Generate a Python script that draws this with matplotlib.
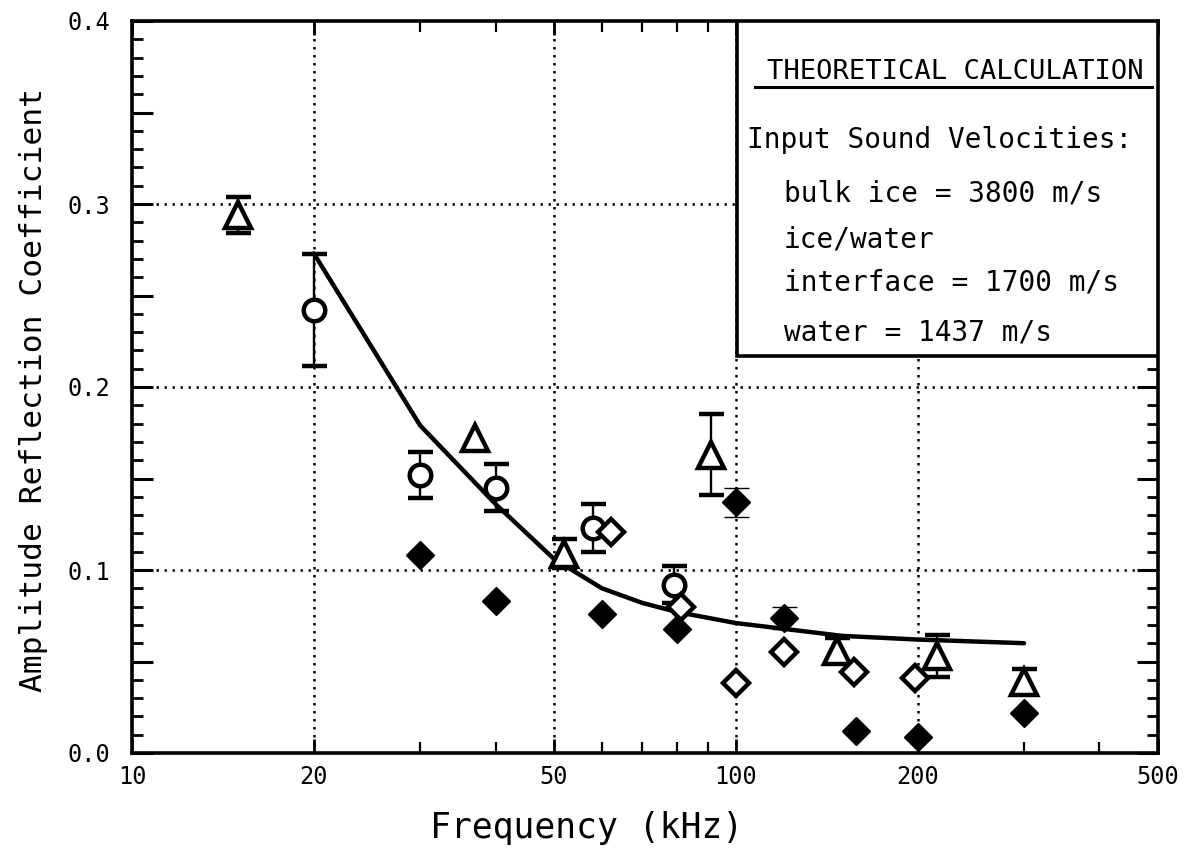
import numpy as np
import matplotlib
matplotlib.use("Agg")
import matplotlib.pyplot as plt
from matplotlib.ticker import FixedLocator, FuncFormatter, NullFormatter
from matplotlib.patches import Rectangle

plt.rcParams['font.family'] = ['DejaVu Sans Mono', 'DejaVu Sans']

# Measured reflection coefficients (open triangles, with error bars)
tri_f = [15, 37, 52, 91, 147, 215, 300]
tri_r = [0.294, 0.172, 0.109, 0.163, 0.056, 0.053, 0.039]
tri_err = [0.010, np.nan, 0.008, 0.022, 0.007, 0.0115, 0.007]

# Open circles, with error bars
circ_f = [20, 30, 40, 58, 79]
circ_r = [0.242, 0.152, 0.145, 0.123, 0.092]
circ_err = [0.0305, 0.0125, 0.013, 0.013, 0.010]

# Open diamonds
odia_f = [62, 81, 100, 120, 157, 198]
odia_r = [0.121, 0.080, 0.038, 0.055, 0.044, 0.041]

# Filled diamonds
fdia_f = [30, 40, 60, 80, 100, 120, 158, 200, 300]
fdia_r = [0.108, 0.083, 0.076, 0.068, 0.137, 0.074, 0.012, 0.009, 0.022]
fdia_err = [np.nan, np.nan, np.nan, np.nan, 0.008, 0.006, np.nan, np.nan, np.nan]

# Theoretical curve
theory_f = [20, 30, 40, 50, 60, 70, 80, 100, 150, 200, 300]
theory_r = [0.273, 0.179, 0.136, 0.106, 0.090, 0.082, 0.077, 0.071, 0.064, 0.062, 0.060]

grid_f = [20, 50, 100, 200]
grid_r = [0.1, 0.2, 0.3]
xtick_vals = [10, 20, 50, 100, 200, 500]
xtick_labels = ['10', '20', '50', '100', '200', '500']
xminor_vals = [30, 40, 60, 70, 80, 90, 300, 400]

box_lines = [
    ("Input Sound Velocities:", 0.599, 0.837),
    ("bulk ice = 3800 m/s", 0.635, 0.765),
    ("ice/water", 0.635, 0.701),
    ("interface = 1700 m/s", 0.635, 0.643),
    ("water = 1437 m/s", 0.635, 0.574),
]

fig = plt.figure(figsize=(11.83, 8.57), dpi=100)
ax = fig.add_axes([132 / 1183, (857 - 753) / 857, 1026 / 1183, 732 / 857])

ax.set_xscale('log')
ax.set_xlim(10, 500)
ax.set_ylim(0.0, 0.4)

# dotted grid
for f in grid_f:
    ax.axvline(f, color='black', ls=(0, (1, 2.2)), lw=1.8, zorder=1)
for r in grid_r:
    ax.axhline(r, color='black', ls=(0, (1, 2.2)), lw=1.8, zorder=1)

# theory curve
ax.plot(theory_f, theory_r, color='black', lw=3.2, zorder=2, solid_capstyle='round')

eb_kw = dict(ecolor='black', elinewidth=1.7, capsize=9, capthick=2.6, ls='none', zorder=3)

ax.errorbar(tri_f, tri_r, yerr=tri_err, fmt='^', ms=18.5, mfc='white', mec='black', mew=3.2, **eb_kw)
ax.errorbar(circ_f, circ_r, yerr=circ_err, fmt='o', ms=15.5, mfc='white', mec='black', mew=3.2, **eb_kw)
ax.plot(odia_f, odia_r, 'D', ms=13, mfc='white', mec='black', mew=3.2, ls='none', zorder=4)
ax.errorbar(fdia_f, fdia_r, yerr=fdia_err, fmt='D', ms=14.5, mfc='black', mec='black', mew=1, **eb_kw)

# ticks
ax.xaxis.set_major_locator(FixedLocator(xtick_vals))
ax.xaxis.set_major_formatter(FuncFormatter(lambda v, p: xtick_labels[xtick_vals.index(int(round(v)))] if int(round(v)) in xtick_vals else ''))
ax.xaxis.set_minor_locator(FixedLocator(xminor_vals))
ax.xaxis.set_minor_formatter(NullFormatter())

y_major = np.round(np.arange(0, 0.4001, 0.05), 2)
y_minor = np.round(np.arange(0, 0.4001, 0.01), 2)
ax.yaxis.set_major_locator(FixedLocator(y_major))
ax.yaxis.set_major_formatter(FuncFormatter(lambda v, p: f"{v:.1f}" if abs(v * 10 - round(v * 10)) < 1e-6 else ''))
ax.yaxis.set_minor_locator(FixedLocator(y_minor))

ax.tick_params(axis='both', which='both', direction='in', top=True, right=True, color='black')
ax.tick_params(axis='x', which='major', length=10, width=2, labelsize=17, pad=9)
ax.tick_params(axis='x', which='minor', length=8, width=1.6)
ax.tick_params(axis='y', which='major', length=15, width=2.2, labelsize=17, pad=16)
ax.tick_params(axis='y', which='minor', length=8, width=2)

for s in ax.spines.values():
    s.set_linewidth(2.6)

# annotation box
ax.add_patch(Rectangle((0.5897, 0.5423), 1 - 0.5897, 1 - 0.5423, transform=ax.transAxes,
                       facecolor='white', edgecolor='black', lw=2.6, zorder=5))
ax.text(0.802, 0.930, "THEORETICAL CALCULATION", transform=ax.transAxes, ha='center', va='center',
        fontsize=19.5, zorder=6)
ax.plot([0.607, 0.994], [0.910, 0.910], transform=ax.transAxes, color='black', lw=2.2, zorder=6)
for txt, x, y in box_lines:
    ax.text(x, y, txt, transform=ax.transAxes, ha='left', va='center', fontsize=20, zorder=6)

fig.text(587 / 1183, (857 - 828) / 857, "Frequency (kHz)", ha='center', va='center', fontsize=25)
fig.text(34 / 1183, (857 - 390) / 857, "Amplitude Reflection Coefficient", ha='center', va='center',
         rotation=90, fontsize=22.5)

fig.savefig('out.png', dpi=100, facecolor='white')
